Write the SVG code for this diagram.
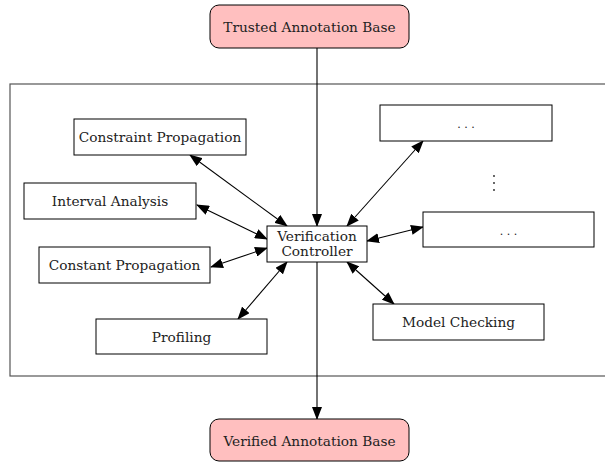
<svg xmlns="http://www.w3.org/2000/svg" width="605" height="462" viewBox="0 0 605 462">
  <style>
    .box { fill: #ffffff; stroke: #000000; stroke-width: 1; }
    .base { fill: #ffbfbf; stroke: #000000; stroke-width: 1; }
    .frame { fill: none; stroke: #555555; stroke-width: 1.2; }
    .lbl { font-family: "DejaVu Serif", "Liberation Serif", serif; font-size: 13.7px; fill: #222222; text-anchor: middle; dominant-baseline: central; }
    .dots { font-family: "DejaVu Serif", "Liberation Serif", serif; font-size: 11px; fill: #222222; text-anchor: middle; dominant-baseline: central; }
    .edge { stroke: #000000; stroke-width: 1.1; fill: none; }
    .dbl { marker-start: url(#head); marker-end: url(#head); }
    .one { marker-end: url(#head); }
  </style>
  <defs>
    <marker id="head" viewBox="0 0 13 10" refX="12" refY="5" markerWidth="13" markerHeight="10" markerUnits="userSpaceOnUse" orient="auto-start-reverse">
      <path d="M0,0 L13,5 L0,10 Z" fill="#000000"/>
    </marker>
  </defs>

  <!-- enclosing frame of the verification tools -->
  <rect class="frame" x="10" y="84" width="610" height="292"/>

  <!-- connectors -->
  <g id="connectors">
    <line class="edge one" x1="317" y1="48" x2="317" y2="226"/>
    <line class="edge one" x1="317" y1="262" x2="317" y2="419"/>
    <line class="edge dbl" x1="190" y1="155" x2="287" y2="226"/>
    <line class="edge dbl" x1="197" y1="205" x2="267" y2="239"/>
    <line class="edge dbl" x1="211" y1="267" x2="267" y2="248"/>
    <line class="edge dbl" x1="238" y1="319" x2="287" y2="262"/>
    <line class="edge dbl" x1="347" y1="262" x2="394" y2="304"/>
    <line class="edge dbl" x1="423" y1="141" x2="347" y2="226"/>
    <line class="edge dbl" x1="423" y1="227" x2="367" y2="241"/>
  </g>

  <g id="trusted">
    <rect class="base" x="210" y="5" width="199" height="43" rx="9"/>
    <text class="lbl" x="309.5" y="27">Trusted Annotation Base</text>
  </g>
  <g id="verified">
    <rect class="base" x="210" y="419" width="199" height="42" rx="9"/>
    <text class="lbl" x="309.5" y="441">Verified Annotation Base</text>
  </g>
  <g id="controller">
    <rect class="box" x="267" y="226" width="100" height="36"/>
    <text class="lbl" x="317" y="236">Verification</text>
    <text class="lbl" x="317" y="251">Controller</text>
  </g>
  <g id="constraint">
    <rect class="box" x="74" y="119" width="172" height="36"/>
    <text class="lbl" x="160" y="137">Constraint Propagation</text>
  </g>
  <g id="interval">
    <rect class="box" x="24" y="183" width="172" height="36"/>
    <text class="lbl" x="110" y="201">Interval Analysis</text>
  </g>
  <g id="constant">
    <rect class="box" x="39" y="247" width="171" height="36"/>
    <text class="lbl" x="124.5" y="265">Constant Propagation</text>
  </g>
  <g id="profiling">
    <rect class="box" x="96" y="319" width="171" height="35"/>
    <text class="lbl" x="181.5" y="336.5">Profiling</text>
  </g>
  <g id="modelchecking">
    <rect class="box" x="373" y="304" width="171" height="36"/>
    <text class="lbl" x="458.5" y="322">Model Checking</text>
  </g>
  <g id="more1">
    <rect class="box" x="380" y="105" width="172" height="36"/>
    <text class="dots" x="466" y="124">. . .</text>
  </g>
  <g id="more2">
    <rect class="box" x="423" y="212" width="171" height="35"/>
    <text class="dots" x="508.5" y="231">. . .</text>
  </g>
  <!-- vertical ellipsis between the open-ended tool slots -->
  <g id="vdots" fill="#222222">
    <circle cx="494" cy="176" r="0.9"/>
    <circle cx="494" cy="183" r="0.9"/>
    <circle cx="494" cy="190" r="0.9"/>
  </g>
</svg>
